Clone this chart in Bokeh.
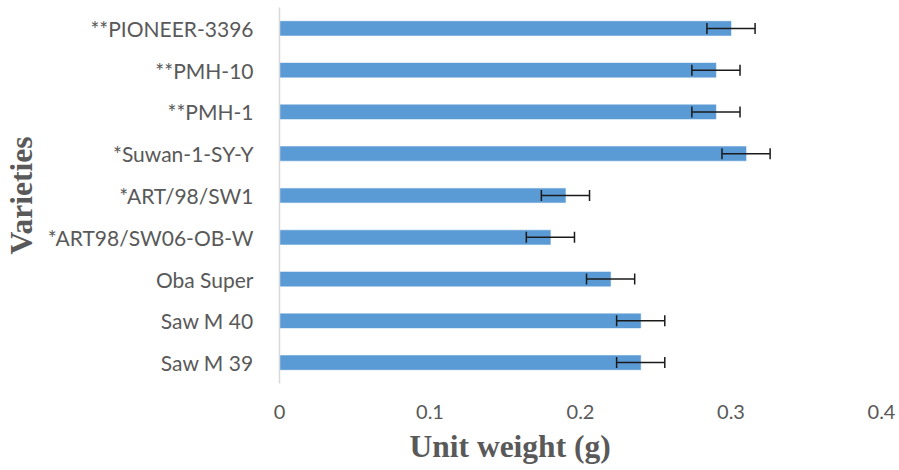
from bokeh.plotting import figure
from bokeh.models import ColumnDataSource, Range1d, FactorRange, FixedTicker, Whisker, TeeHead, Title
from bokeh.embed import file_html
from bokeh.resources import INLINE

varieties = ["Saw M 39", "Saw M 40", "Oba Super", "*ART98/SW06-OB-W", "*ART/98/SW1",
             "*Suwan-1-SY-Y", "**PMH-1", "**PMH-10", "**PIONEER-3396"]
unit_weight = [0.24, 0.24, 0.22, 0.18, 0.19, 0.31, 0.29, 0.29, 0.30]
errors = [0.016, 0.016, 0.016, 0.016, 0.016, 0.016, 0.016, 0.016, 0.016]
x_ticks = [0, 0.1, 0.2, 0.3, 0.4]
x_tick_labels = ["0", "0.1", "0.2", "0.3", "0.4"]

src = ColumnDataSource(dict(
    var=varieties, val=unit_weight,
    lower=[v - e for v, e in zip(unit_weight, errors)],
    upper=[v + e for v, e in zip(unit_weight, errors)],
))

p = figure(frame_width=602, frame_height=376, y_range=FactorRange(*varieties, range_padding=0),
           x_range=Range1d(0, 0.4), output_backend="svg", toolbar_location=None,
           min_border_left=278, min_border_right=19, min_border_top=7, min_border_bottom=87)
p.outline_line_color = None
p.grid.visible = False

p.hbar(y="var", right="val", left=0, height=0.34, source=src,
       fill_color="#5B9BD5", line_color="#5B9BD5", line_width=0.5)

w = Whisker(base="var", lower="lower", upper="upper", dimension="width", source=src,
            line_color="#1a1a1a", line_width=1.5, level="overlay",
            upper_head=TeeHead(size=11, line_color="#1a1a1a", line_width=1.5),
            lower_head=TeeHead(size=11, line_color="#1a1a1a", line_width=1.5))
p.add_layout(w)

tick_color = "#595959"
xa = p.xaxis[0]
xa.ticker = FixedTicker(ticks=x_ticks)
xa.major_label_overrides = {t: l for t, l in zip(x_ticks, x_tick_labels)}
xa.axis_line_color = None
xa.major_tick_line_color = None
xa.minor_tick_line_color = None
xa.major_label_text_font = "Lato"
xa.major_label_text_font_size = "20px"
xa.major_label_text_color = tick_color
xa.major_label_standoff = 15

ya = p.yaxis[0]
ya.axis_line_color = "#D9D9D9"
ya.axis_line_width = 1.5
ya.major_tick_line_color = None
ya.minor_tick_line_color = None
ya.major_label_text_font = "Lato"
ya.major_label_text_font_size = "21px"
ya.major_label_text_color = tick_color
ya.major_label_standoff = 20
ya.axis_label = "Varieties"
ya.axis_label_text_font = "Liberation Serif"
ya.axis_label_text_font_style = "bold"
ya.axis_label_text_font_size = "31.5px"
ya.axis_label_text_color = tick_color
ya.axis_label_standoff = 6

t = Title(text="Unit weight (g)", align="left", offset=130,
          text_font="Liberation Serif", text_font_style="bold",
          text_font_size="31.5px", text_color=tick_color)
p.add_layout(t, "below")

open("out.html", "w").write(file_html(p, INLINE))
